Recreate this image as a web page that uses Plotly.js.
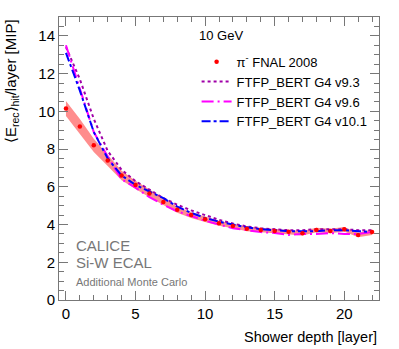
<!DOCTYPE html>
<html>
<head>
<meta charset="utf-8">
<script src="https://cdn.plot.ly/plotly-3.0.1.min.js"></script>
<style>
  body { margin: 0; background: #fff; }
  #plot { width: 399px; height: 349px; }
</style>
</head>
<body>
<div id="plot"></div>
<script>
var layers = [0, 1, 2, 3, 4, 5, 6, 7, 8, 9, 10, 11, 12, 13, 14, 15, 16, 17, 18, 19, 20, 21, 22];

var dataE = [10.15, 9.2, 8.2, 7.4, 6.6, 6.1, 5.65, 5.2, 4.78, 4.5, 4.28, 4.07, 3.92, 3.77, 3.71, 3.66, 3.62, 3.54, 3.71, 3.66, 3.75, 3.45, 3.6];
var dataErr = [0.4, 0.4, 0.35, 0.3, 0.25, 0.22, 0.2, 0.18, 0.16, 0.15, 0.14, 0.13, 0.12, 0.12, 0.12, 0.12, 0.12, 0.12, 0.12, 0.12, 0.12, 0.12, 0.15];

var g4v93 = [13.4, 11.7, 9.6, 7.9, 6.9, 6.3, 5.85, 5.4, 5.05, 4.75, 4.5, 4.25, 4.05, 3.9, 3.8, 3.75, 3.7, 3.7, 3.75, 3.75, 3.75, 3.7, 3.7];
var g4v96 = [13.5, 11.2, 8.9, 7.6, 6.4, 5.95, 5.45, 5.05, 4.7, 4.45, 4.2, 4.0, 3.8, 3.7, 3.6, 3.55, 3.45, 3.5, 3.5, 3.55, 3.5, 3.5, 3.6];
var g4v101 = [13.1, 11.1, 8.9, 7.5, 6.6, 6.1, 5.75, 5.4, 4.95, 4.62, 4.35, 4.15, 4.0, 3.85, 3.75, 3.7, 3.65, 3.65, 3.65, 3.7, 3.7, 3.65, 3.6];

// error band as closed polygon (upper then lower reversed)
var bandX = layers.concat(layers.slice().reverse());
var bandY = dataE.map(function(v, i) { return v + dataErr[i]; })
  .concat(dataE.map(function(v, i) { return v - dataErr[i]; }).reverse());

var band = {
  x: bandX, y: bandY,
  fill: "toself", fillcolor: "rgba(255,80,80,0.65)",
  line: {width: 0}, mode: "lines",
  hoverinfo: "skip", showlegend: false
};

var t93 = {
  x: layers, y: g4v93, mode: "lines", name: "FTFP_BERT G4 v9.3", legendrank: 2,
  line: {color: "#a000a8", width: 2, dash: "dot"}
};
var t96 = {
  x: layers, y: g4v96, mode: "lines", name: "FTFP_BERT G4 v9.6", legendrank: 3,
  line: {color: "#ff00ff", width: 2, dash: "12px,4px,2px,4px"}
};
var t101 = {
  x: layers, y: g4v101, mode: "lines", name: "FTFP_BERT G4 v10.1", legendrank: 4,
  line: {color: "#0000ff", width: 2, dash: "dashdot"}
};
var tData = {
  x: layers, y: dataE, mode: "markers", name: "\u03c0<sup>-</sup> FNAL 2008", legendrank: 1,
  marker: {color: "#ff0000", size: 4.5}
};

var font = "Liberation Sans, Arial, sans-serif";

var layout = {
  width: 399, height: 349,
  margin: {l: 59, r: 20, t: 17, b: 49},
  paper_bgcolor: "#fff", plot_bgcolor: "#fff",
  font: {family: font, color: "#000", size: 14},
  showlegend: true,
  legend: {
    x: 0.43, y: 0.895, xanchor: "left", yanchor: "top",
    bgcolor: "rgba(0,0,0,0)", font: {size: 13},
    tracegroupgap: 0, traceorder: "normal"
  },
  xaxis: {
    range: [-0.5, 22.5], dtick: 5, tick0: 0,
    ticks: "inside", ticklen: 9, tickcolor: "#777",
    showline: true, linecolor: "#777", mirror: "ticks",
    showgrid: false, zeroline: false,
    minor: {ticks: "inside", dtick: 1, ticklen: 5, tickcolor: "#777"},
    tickfont: {size: 15}
  },
  yaxis: {
    range: [0, 15], dtick: 2, tick0: 0,
    ticks: "inside", ticklen: 9, tickcolor: "#777",
    showline: true, linecolor: "#777", mirror: "ticks",
    showgrid: false, zeroline: false,
    minor: {ticks: "inside", dtick: 0.5, ticklen: 5, tickcolor: "#777"},
    tickfont: {size: 15}
  },
  annotations: [
    {text: "Shower depth [layer]", xref: "paper", yref: "paper", x: 1, y: 0,
     xanchor: "right", yanchor: "top", yshift: -27, showarrow: false, font: {size: 14.5}},
    {text: "\u27e8E<sub>rec</sub>\u27e9<sub>hit</sub>/layer [MIP]", xref: "paper", yref: "paper",
     x: 0, y: 1, xanchor: "center", yanchor: "top", xshift: -48, textangle: -90,
     showarrow: false, font: {size: 15}},
    {text: "10 GeV", xref: "paper", yref: "paper", x: 0.43, y: 0.935,
     xanchor: "left", yanchor: "middle", showarrow: false, font: {size: 13}},
    {text: "CALICE", xref: "x", yref: "y", x: 0.6, y: 2.9, xanchor: "left",
     showarrow: false, font: {size: 15, color: "#777"}},
    {text: "Si-W ECAL", xref: "x", yref: "y", x: 0.6, y: 2.0, xanchor: "left",
     showarrow: false, font: {size: 15, color: "#777"}},
    {text: "Additional Monte Carlo", xref: "x", yref: "y", x: 0.6, y: 0.95, xanchor: "left",
     showarrow: false, font: {size: 11, color: "#777"}}
  ]
};

Plotly.newPlot("plot", [band, t93, t96, t101, tData], layout, {displayModeBar: false, staticPlot: true});
</script>
</body>
</html>
